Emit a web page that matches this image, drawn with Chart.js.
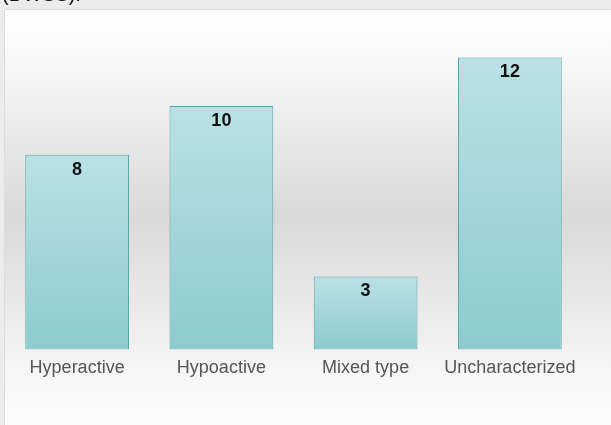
<!DOCTYPE html>
<html>
<head>
<meta charset="utf-8">
<script src="https://cdn.jsdelivr.net/npm/chart.js@4"></script>
<style>
html,body{margin:0;padding:0;background:#ececec;overflow:hidden;}
#wrap{position:relative;width:611px;height:425px;}
#cap{position:absolute;left:2px;top:-17px;font:20px "Liberation Sans",Arial,sans-serif;color:#111;}
canvas{position:absolute;left:0;top:0;}
</style>
</head>
<body>
<div id="wrap">
<canvas id="c" width="611" height="425"></canvas>
<div id="cap">(DWSS).</div>
</div>
<script>
const categories = ["Hyperactive","Hypoactive","Mixed type","Uncharacterized"];
const counts = [8,10,3,12];

const panelBg = {
  id:'panelBg',
  beforeDraw(chart){
    const ctx = chart.ctx;
    ctx.save();
    ctx.fillStyle = '#ececec';
    ctx.fillRect(0,0,chart.width,chart.height);
    const g = ctx.createLinearGradient(0,10,0,425);
    g.addColorStop(0,'#ffffff');
    g.addColorStop(0.08,'#fbfbfb');
    g.addColorStop(0.5,'#d9d9d9');
    g.addColorStop(0.9,'#f8f8f8');
    g.addColorStop(1,'#fcfcfc');
    ctx.fillStyle = g;
    ctx.fillRect(5,10,chart.width-5,chart.height-10);
    ctx.strokeStyle = '#dcdcdc';
    ctx.lineWidth = 1;
    ctx.beginPath();
    ctx.moveTo(4.5,10);ctx.lineTo(4.5,chart.height);
    ctx.moveTo(5,9.5);ctx.lineTo(chart.width,9.5);
    ctx.stroke();
    ctx.restore();
  }
};

const valueLabels = {
  id:'valueLabels',
  afterDatasetsDraw(chart){
    const ctx = chart.ctx;
    const meta = chart.getDatasetMeta(0);
    ctx.save();
    ctx.font = 'bold 18px "Liberation Sans", Arial, sans-serif';
    ctx.fillStyle = '#111';
    ctx.textAlign = 'center';
    ctx.textBaseline = 'middle';
    meta.data.forEach((bar,i)=>{
      ctx.fillText(String(counts[i]), bar.x, bar.y + 15);
    });
    ctx.restore();
  }
};

new Chart(document.getElementById('c'), {
  type:'bar',
  data:{
    labels:categories,
    datasets:[{
      data:counts,
      backgroundColor(context){
        const chart = context.chart;
        const ys = chart.scales && chart.scales.y;
        if(!chart.chartArea || !ys) return '#a5d6da';
        const v = counts[context.dataIndex];
        const top = ys.getPixelForValue(v);
        const bot = ys.getPixelForValue(0);
        if(!isFinite(top)||!isFinite(bot)||top===bot) return '#a5d6da';
        const g = chart.ctx.createLinearGradient(0,top,0,bot);
        g.addColorStop(0,'#bae1e5');
        g.addColorStop(1,'#8ccbcd');
        return g;
      },
      borderColor:'#57a6a7',
      borderWidth:1,
      borderSkipped:false,
      barPercentage:0.85,
      categoryPercentage:0.846
    }]
  },
  options:{
    responsive:false,
    animation:false,
    devicePixelRatio:1,
    layout:{padding:{left:5,right:29,top:10,bottom:38}},
    plugins:{legend:{display:false},tooltip:{enabled:false}},
    scales:{
      x:{
        grid:{display:false,drawTicks:false},
        border:{display:false},
        ticks:{color:'#555',padding:8,font:{family:'"Liberation Sans", Arial, sans-serif',size:18}}
      },
      y:{display:false,min:0,max:13.95}
    }
  },
  plugins:[panelBg,valueLabels]
});
</script>
</body>
</html>
